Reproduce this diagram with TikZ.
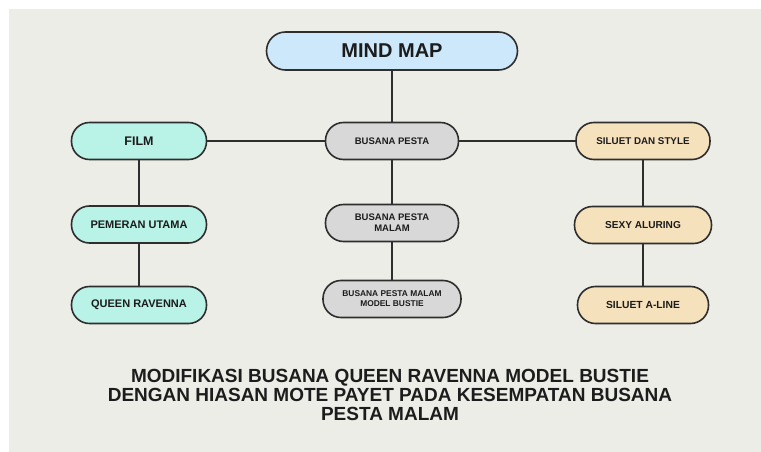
\documentclass[tikz,border=0pt]{standalone}
\usepackage{fontspec}
\setmainfont{Liberation Sans}
\definecolor{bgc}{HTML}{EDEDE8}
\definecolor{edge}{HTML}{2E2E2E}
\definecolor{txt}{HTML}{1C1C1C}
\definecolor{blue}{HTML}{CDE8FB}
\definecolor{teal}{HTML}{B9F2E6}
\definecolor{greyf}{HTML}{D8D8D8}
\definecolor{beige}{HTML}{F5E1BB}
\begin{document}
\begin{tikzpicture}[x=1pt,y=-1pt,
  pill/.style={draw=edge, line width=1.6pt, rounded corners=18pt, inner sep=0pt,
    minimum height=37pt, align=center, text=txt, font=\bfseries},
  link/.style={draw=edge, line width=1.5pt}]
\useasboundingbox (0,0) rectangle (761,452);
\fill[white] (0,0) rectangle (761,452);
\fill[bgc] (9,9) rectangle (762,453);

\node[pill, fill=blue, minimum width=251pt, minimum height=38pt, rounded corners=19pt,
  font=\bfseries\fontsize{20}{22}\selectfont] (mm) at (392,51) {MIND MAP};

\node[pill, fill=greyf, minimum width=133pt, font=\bfseries\fontsize{9.5}{11}\selectfont] (bp) at (392,141) {BUSANA PESTA};
\node[pill, fill=greyf, minimum width=133pt, font=\bfseries\fontsize{9.5}{11}\selectfont] (bpm) at (392,223) {BUSANA PESTA\\MALAM};
\node[pill, fill=greyf, minimum width=138pt, font=\bfseries\fontsize{8.4}{10}\selectfont] (bpmb) at (392,299) {BUSANA PESTA MALAM\\MODEL BUSTIE};

\node[pill, fill=teal, minimum width=135pt, font=\bfseries\fontsize{12.5}{14}\selectfont] (film) at (139,141) {FILM};
\node[pill, fill=teal, minimum width=135pt, font=\bfseries\fontsize{11}{13}\selectfont] (pem) at (139,224.5) {PEMERAN UTAMA};
\node[pill, fill=teal, minimum width=135pt, font=\bfseries\fontsize{11}{13}\selectfont] (qr) at (139,305) {QUEEN RAVENNA};

\node[pill, fill=beige, minimum width=134pt, font=\bfseries\fontsize{9.8}{12}\selectfont] (sil) at (643,141) {SILUET DAN STYLE};
\node[pill, fill=beige, minimum width=137pt, font=\bfseries\fontsize{10.1}{12}\selectfont] (sexy) at (643,225) {SEXY ALURING};
\node[pill, fill=beige, minimum width=131pt, font=\bfseries\fontsize{10.3}{12}\selectfont] (aline) at (643,305) {SILUET A-LINE};

\draw[link] (mm) -- (bp);
\draw[link] (film) -- (bp);
\draw[link] (bp) -- (sil);
\draw[link] (bp) -- (bpm);
\draw[link] (bpm) -- (bpmb);
\draw[link] (film) -- (pem);
\draw[link] (pem) -- (qr);
\draw[link] (sil) -- (sexy);
\draw[link] (sexy) -- (aline);

\node[align=center, text=txt, inner sep=0pt, font=\bfseries\fontsize{19}{19.2}\selectfont] (title) at (390,395)
  {MODIFIKASI BUSANA QUEEN RAVENNA MODEL BUSTIE\\DENGAN HIASAN MOTE PAYET PADA KESEMPATAN BUSANA\\PESTA MALAM};
\end{tikzpicture}
\end{document}
